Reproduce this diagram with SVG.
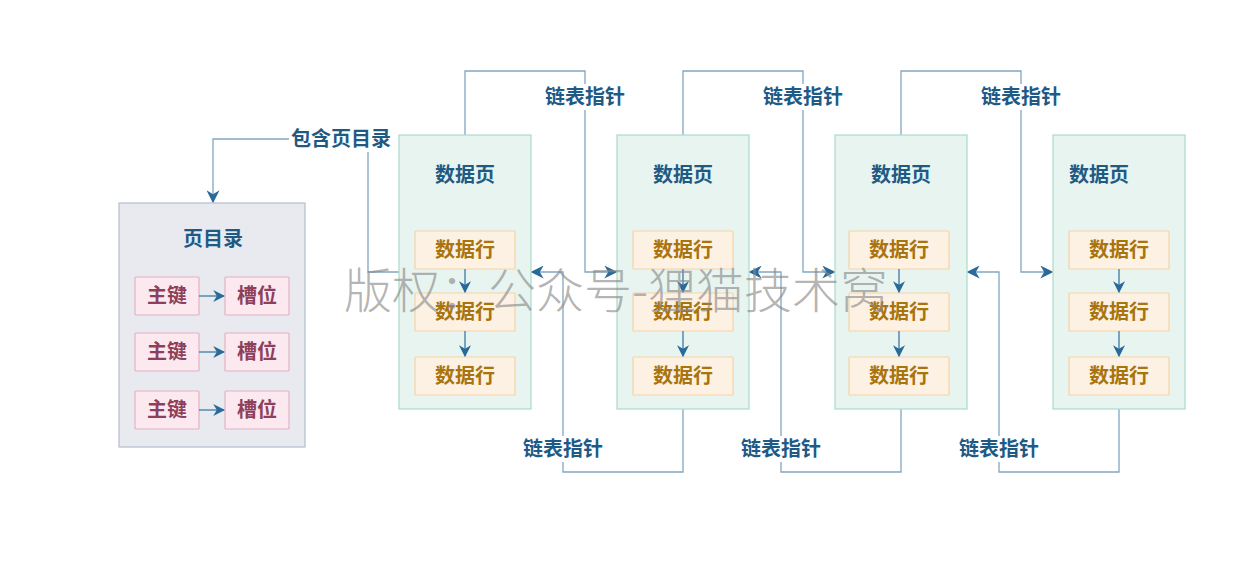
<svg xmlns="http://www.w3.org/2000/svg" width="1250" height="576" viewBox="0 0 1250 576">
<defs>
<marker id="arr" viewBox="0 0 10 10" refX="9" refY="5" markerWidth="12" markerHeight="12" markerUnits="userSpaceOnUse" orient="auto">
<path d="M0,0 L10,5 L0,10 L3,5 Z" fill="#2a6a9a"/>
</marker>
<marker id="arr2" viewBox="0 0 10 10" refX="9" refY="5" markerWidth="13" markerHeight="13" markerUnits="userSpaceOnUse" orient="auto">
<path d="M0,0 L10,5 L0,10 L3,5 Z" fill="#2a6a9a"/>
</marker>
<style>
text{font-family:"Noto Sans CJK SC","Noto Sans",sans-serif;text-anchor:middle;dominant-baseline:central;font-weight:bold;}
.dir{fill:#e8eaef;stroke:#b3bccb;stroke-width:1.2;}
.key{fill:#fbe9ef;stroke:#e3b1c2;stroke-width:1.2;}
.kt{fill:#8d3f5c;font-size:20px;}
.page{fill:#e7f4ef;stroke:#a9dbc9;stroke-width:1.2;}
.row{fill:#fdf1e4;stroke:#f5d3a6;stroke-width:1.2;}
.rt{fill:#a9740e;font-size:20px;}
.title{fill:#1f5a85;font-size:20px;}
.lbl{fill:#1f5a85;font-size:20px;}
.ln{fill:none;stroke:#82a6c0;stroke-width:1.3;}
.in{fill:none;stroke:#3a7aa8;stroke-width:1.3;}
.bg{fill:#ffffff;}
.wm{fill:#8a8a8a;fill-opacity:0.65;font-size:48px;font-weight:300;text-anchor:start;dominant-baseline:auto;}
</style>
</defs>
<rect width="1250" height="576" fill="#ffffff"/>

<g id="connectors">
<path class="ln" d="M399,272 H368 V139 H213 V202" marker-end="url(#arr2)"/>
<path class="ln" d="M465,135 V71 H585 V272 H616" marker-end="url(#arr2)"/>
<path class="ln" d="M683,135 V71 H803 V272 H834" marker-end="url(#arr2)"/>
<path class="ln" d="M901,135 V71 H1021 V272 H1052" marker-end="url(#arr2)"/>
<path class="ln" d="M683,409 V472 H563 V272 H532" marker-end="url(#arr2)"/>
<path class="ln" d="M901,409 V472 H781 V272 H750" marker-end="url(#arr2)"/>
<path class="ln" d="M1119,409 V472 H999 V272 H968" marker-end="url(#arr2)"/>
<rect class="bg" x="289" y="126" width="104" height="26"/>
<text class="lbl" x="341" y="137">包含页目录</text>
<rect class="bg" x="543" y="84" width="84" height="26"/>
<text class="lbl" x="585" y="95">链表指针</text>
<rect class="bg" x="761" y="84" width="84" height="26"/>
<text class="lbl" x="803" y="95">链表指针</text>
<rect class="bg" x="979" y="84" width="84" height="26"/>
<text class="lbl" x="1021" y="95">链表指针</text>
<rect class="bg" x="521" y="436" width="84" height="26"/>
<text class="lbl" x="563" y="447">链表指针</text>
<rect class="bg" x="739" y="436" width="84" height="26"/>
<text class="lbl" x="781" y="447">链表指针</text>
<rect class="bg" x="957" y="436" width="84" height="26"/>
<text class="lbl" x="999" y="447">链表指针</text>
</g>

<g id="page-directory">
<rect class="dir" x="119" y="203" width="186" height="244"/>
<text class="title" x="213" y="237">页目录</text>
<g id="dir-entry-1">
<rect class="key" x="135" y="277" width="64" height="38" rx="1"/>
<text class="kt" x="167" y="294">主键</text>
<rect class="key" x="225" y="277" width="64" height="38" rx="1"/>
<text class="kt" x="257" y="294">槽位</text>
<path class="in" d="M199,296 H224" marker-end="url(#arr)"/>
</g>
<g id="dir-entry-2">
<rect class="key" x="135" y="333" width="64" height="38" rx="1"/>
<text class="kt" x="167" y="350">主键</text>
<rect class="key" x="225" y="333" width="64" height="38" rx="1"/>
<text class="kt" x="257" y="350">槽位</text>
<path class="in" d="M199,352 H224" marker-end="url(#arr)"/>
</g>
<g id="dir-entry-3">
<rect class="key" x="135" y="391" width="64" height="38" rx="1"/>
<text class="kt" x="167" y="408">主键</text>
<rect class="key" x="225" y="391" width="64" height="38" rx="1"/>
<text class="kt" x="257" y="408">槽位</text>
<path class="in" d="M199,410 H224" marker-end="url(#arr)"/>
</g>
</g>

<g id="data-page-1">
<rect class="page" x="399" y="135" width="132" height="274"/>
<text class="title" x="465" y="173">数据页</text>
<rect class="row" x="415" y="231" width="100" height="38" rx="1"/>
<text class="rt" x="465" y="248">数据行</text>
<rect class="row" x="415" y="293" width="100" height="38" rx="1"/>
<text class="rt" x="465" y="310">数据行</text>
<rect class="row" x="415" y="357" width="100" height="38" rx="1"/>
<text class="rt" x="465" y="374">数据行</text>
<path class="in" d="M465,269 V292" marker-end="url(#arr)"/>
<path class="in" d="M465,331 V356" marker-end="url(#arr)"/>
</g>

<g id="data-page-2">
<rect class="page" x="617" y="135" width="132" height="274"/>
<text class="title" x="683" y="173">数据页</text>
<rect class="row" x="633" y="231" width="100" height="38" rx="1"/>
<text class="rt" x="683" y="248">数据行</text>
<rect class="row" x="633" y="293" width="100" height="38" rx="1"/>
<text class="rt" x="683" y="310">数据行</text>
<rect class="row" x="633" y="357" width="100" height="38" rx="1"/>
<text class="rt" x="683" y="374">数据行</text>
<path class="in" d="M683,269 V292" marker-end="url(#arr)"/>
<path class="in" d="M683,331 V356" marker-end="url(#arr)"/>
</g>

<g id="data-page-3">
<rect class="page" x="835" y="135" width="132" height="274"/>
<text class="title" x="901" y="173">数据页</text>
<rect class="row" x="849" y="231" width="100" height="38" rx="1"/>
<text class="rt" x="899" y="248">数据行</text>
<rect class="row" x="849" y="293" width="100" height="38" rx="1"/>
<text class="rt" x="899" y="310">数据行</text>
<rect class="row" x="849" y="357" width="100" height="38" rx="1"/>
<text class="rt" x="899" y="374">数据行</text>
<path class="in" d="M899,269 V292" marker-end="url(#arr)"/>
<path class="in" d="M899,331 V356" marker-end="url(#arr)"/>
</g>

<g id="data-page-4">
<rect class="page" x="1053" y="135" width="132" height="274"/>
<text class="title" x="1099" y="173">数据页</text>
<rect class="row" x="1069" y="231" width="100" height="38" rx="1"/>
<text class="rt" x="1119" y="248">数据行</text>
<rect class="row" x="1069" y="293" width="100" height="38" rx="1"/>
<text class="rt" x="1119" y="310">数据行</text>
<rect class="row" x="1069" y="357" width="100" height="38" rx="1"/>
<text class="rt" x="1119" y="374">数据行</text>
<path class="in" d="M1119,269 V292" marker-end="url(#arr)"/>
<path class="in" d="M1119,331 V356" marker-end="url(#arr)"/>
</g>

<text class="wm" x="344" y="308">版权：公众号-狸猫技术窝</text>
</svg>
